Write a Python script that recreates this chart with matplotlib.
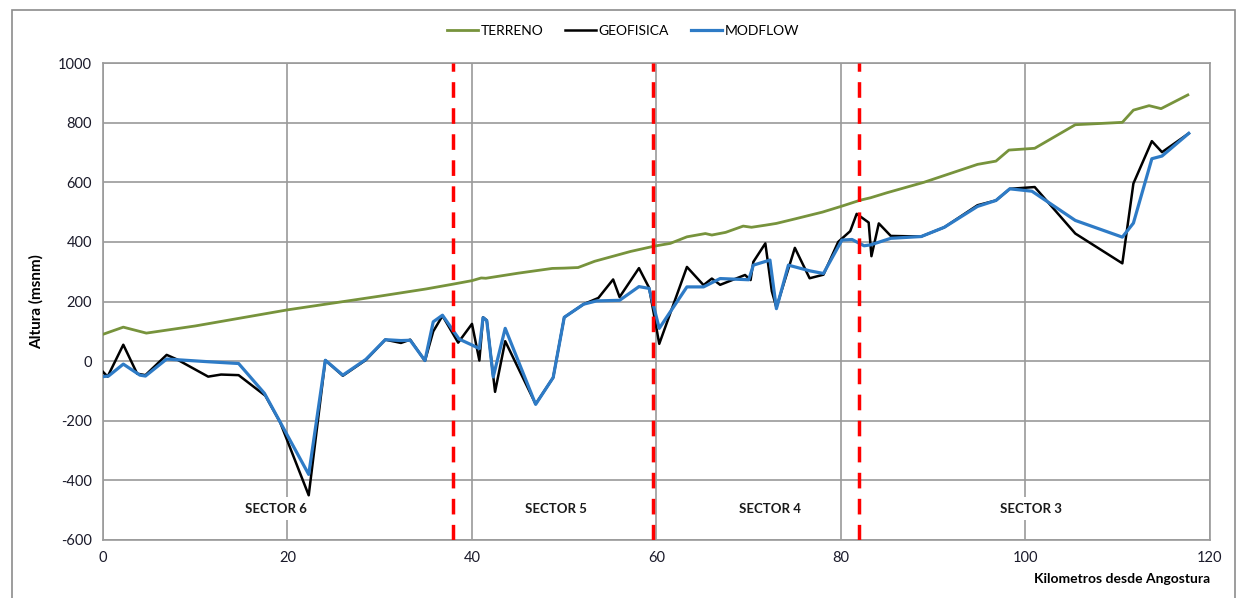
import matplotlib.pyplot as plt
from matplotlib.patches import Rectangle

plt.rcParams['font.family'] = ['Lato', 'DejaVu Sans']
plt.rcParams['axes.unicode_minus'] = False

# perfil longitudinal: terreno, techo de roca segun geofisica y segun modelo
terreno_km = [0, 2.2, 4.7, 10, 15, 20, 25, 30, 35, 37.9, 40, 41, 41.5, 45, 48.7, 50,
              51.5, 53.3, 57.2, 59.8, 61.5, 63.3, 65.3, 66.0, 67.5, 69.4, 70.3, 71.8,
              73, 75, 78, 80.1, 82.1, 83.2, 85, 89, 94.8, 96.8, 98.2, 101, 105.4,
              110.5, 111.7, 113.4, 114.7, 117.6]
terreno = [90, 114, 94, 118, 145, 172, 195, 218, 242, 258, 270, 279, 278, 295, 311, 312,
           314, 335, 368, 386, 395, 417, 428, 423, 432, 453, 449, 456,
           462, 477, 500, 520, 540, 548, 565, 600, 660, 671, 708, 714, 793,
           801, 842, 857, 847, 893]

geo_km = [0, 0.5, 2.2, 3.7, 4.6, 6.9, 8.0, 11.4, 12.8, 14.7, 17.6, 19.2, 22.3, 24.1,
          26.0, 28.5, 30.6, 32.3, 33.3, 34.9, 35.8, 36.8, 38.5, 40.0, 40.8, 41.2, 41.6,
          42.5, 43.6, 46.9, 48.8, 50.0, 52.1, 53.7, 55.3, 56.0, 58.1, 59.2, 60.3, 63.3,
          65.1, 66.0, 66.9, 69.6, 70.2, 70.5, 71.8, 72.5, 73.0, 75.0, 76.6, 78.1, 79.7,
          81.0, 81.7, 83.0, 83.3, 84.1, 85.4, 88.7, 91.2, 94.8, 96.8, 98.3, 101.0,
          105.4, 110.5, 111.7, 113.7, 114.8, 117.7]
geofisica = [-36, -52, 55, -42, -47, 21, 6, -52, -45, -47, -116, -205, -450, 3,
             -49, 4, 72, 61, 72, 1, 100, 152, 62, 125, 2, 147, 137,
             -103, 67, -144, -55, 147, 191, 212, 274, 215, 312, 246, 58, 316,
             255, 277, 256, 289, 272, 333, 395, 235, 180, 380, 278, 290, 400,
             436, 494, 465, 352, 462, 420, 418, 449, 523, 539, 578, 584,
             428, 328, 596, 738, 701, 764]

mod_km = [0, 0.6, 2.2, 4.0, 4.6, 6.9, 11.4, 14.7, 17.5, 22.3, 24.1, 26.0, 28.5, 30.6,
          32.3, 33.3, 34.9, 35.8, 36.8, 38.6, 40.0, 40.8, 41.2, 41.6, 42.3, 43.6, 46.9,
          48.8, 50.0, 52.1, 53.5, 56.0, 58.1, 59.2, 60.3, 63.3, 65.1, 66.9, 70.0, 70.5,
          72.3, 73.0, 74.3, 76.6, 78.1, 80.1, 81.2, 82.5, 83.2, 85.4, 88.7, 91.2, 94.8,
          96.8, 98.3, 100.7, 105.4, 110.5, 111.7, 113.7, 114.8, 117.7]
modflow = [-52, -50, -10, -47, -50, 7, -2, -8, -108, -380, 3, -47, 6, 72,
           69, 70, 2, 132, 154, 74, 54, 42, 146, 136, -53, 110, -145,
           -55, 147, 191, 202, 204, 250, 244, 110, 249, 249, 277, 273, 322,
           339, 176, 322, 303, 294, 406, 408, 387, 390, 412, 418, 449, 519,
           539, 578, 570, 472, 416, 463, 679, 688, 764]

limites = [37.9, 59.6, 81.9]
sectores = ['SECTOR 6', 'SECTOR 5', 'SECTOR 4', 'SECTOR 3']
sector_km = [18.75, 49.1, 72.3, 100.6]

fig = plt.figure(figsize=(12.41, 5.98), dpi=100)
ax = fig.add_axes([0.083, 0.097, 0.892, 0.7976])

ax.plot(terreno_km, terreno, color='#77933C', lw=2, label='TERRENO', zorder=3)
ax.plot(geo_km, geofisica, color='black', lw=1.8, label='GEOFISICA', zorder=4)
ax.plot(mod_km, modflow, color='#2E7BC6', lw=2.3, label='MODFLOW', zorder=5)

for x in limites:
    ax.axvline(x, color='#FF0000', lw=2.5, dashes=(4.5, 3), zorder=6)

for txt, x in zip(sectores, sector_km):
    ax.text(x, -495, txt, ha='center', va='center', fontsize=9.5, fontweight='bold',
            color='#1A1A1A', zorder=7,
            bbox=dict(facecolor='white', edgecolor='none', pad=4))

ax.set_xlim(0, 120)
ax.set_ylim(-600, 1000)
ax.set_xticks(range(0, 121, 20))
ax.set_yticks(range(-600, 1001, 200))
ax.grid(True, color='#9A9A9A', lw=1.2, zorder=0)
for s in ax.spines.values():
    s.set_color('#9A9A9A')
    s.set_linewidth(1.2)
ax.tick_params(length=0, pad=8, labelsize=10.5, labelcolor='#1A1A2A')

ax.set_ylabel('Altura (msnm)', fontsize=11, fontweight='bold', labelpad=10)
ax.set_xlabel('Kilometros desde Angostura', fontsize=10, fontweight='bold', labelpad=4)
ax.xaxis.set_label_coords(1.0, -0.07)
ax.xaxis.label.set_ha('right')

fig.legend(loc='center', bbox_to_anchor=(0.502, 1 - 31 / 598), ncol=3, frameon=False,
           fontsize=10, handlelength=2.2, handletextpad=0.2, columnspacing=1.6)

fig.patches.append(Rectangle((0.0097, -0.01), 0.9855, 0.993, transform=fig.transFigure,
                             fill=False, edgecolor='#8C8C8C', lw=1.2))

fig.savefig('out.png', dpi=100)
